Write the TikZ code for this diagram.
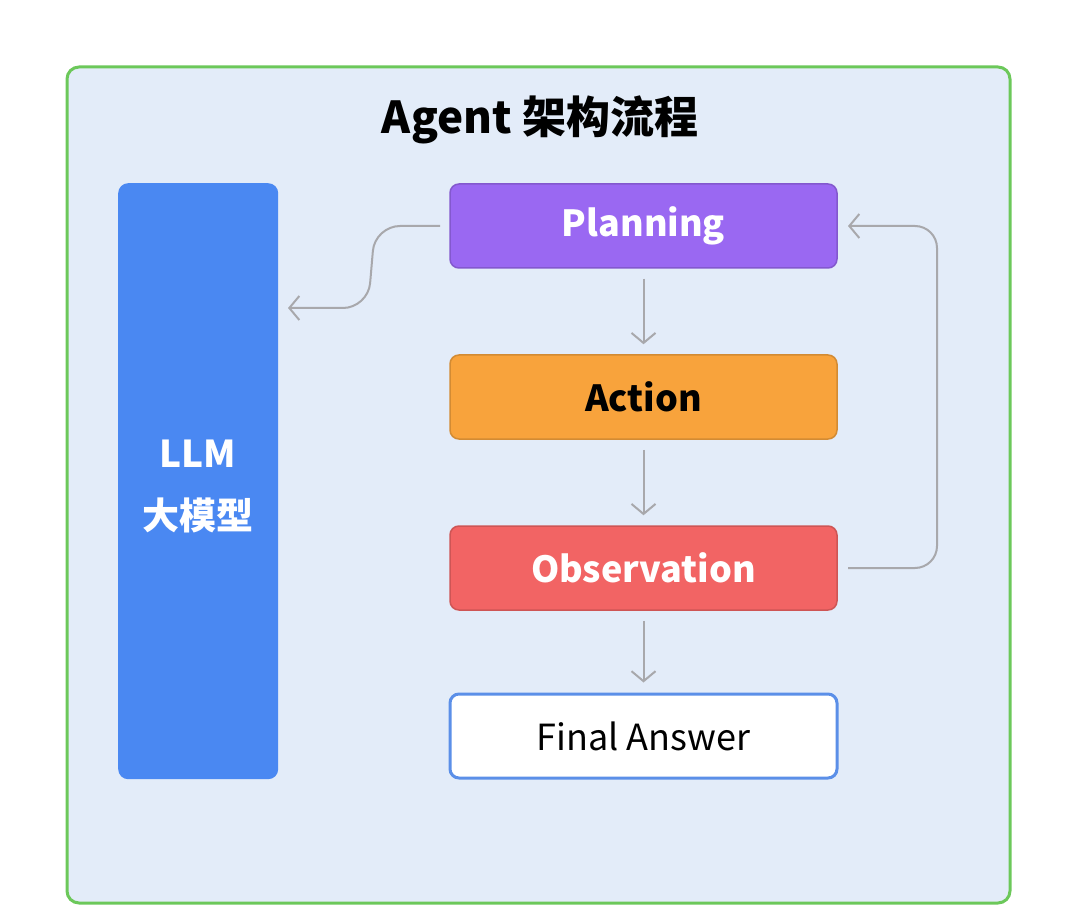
\documentclass[tikz,border=0pt]{standalone}
\usepackage{fontspec}
\setmainfont{Noto Sans CJK SC}
\usetikzlibrary{arrows.meta}
\definecolor{bgc}{HTML}{E3ECF9}
\definecolor{grn}{HTML}{6CC85A}
\definecolor{llm}{HTML}{4A88F2}
\definecolor{plan}{HTML}{9A68F2}
\definecolor{act}{HTML}{F8A33C}
\definecolor{obs}{HTML}{F26464}
\definecolor{fin}{HTML}{5B8FE8}
\definecolor{arr}{HTML}{A8A8AC}
\tikzset{
  box/.style={rounded corners=9pt, minimum width=387pt, minimum height=84pt, font=\fontsize{36}{42}\selectfont\bfseries, line width=1.5pt},
  conn/.style={draw=arr, line width=2pt, -{Straight Barb[length=10pt,width=24pt,line width=2pt]}}
}
\begin{document}
\begin{tikzpicture}[x=1pt,y=-1pt]
\useasboundingbox (0,0) rectangle (1080,912);
\draw[fill=bgc, draw=grn, line width=3pt, rounded corners=12pt] (67,67) rectangle (1010,903);
\node (title) at (540,120) {\fontsize{44}{50}\selectfont\bfseries Agent 架构流程};
\node[fill=llm, rounded corners=10pt, minimum width=160pt, minimum height=596pt, anchor=north west] (llm) at (118,183) {};
\node[text=white, align=center, font=\fontsize{37}{62}\selectfont\bfseries] (llmt) at (198,486) {LLM\\大模型};
\node[box, fill=plan, draw=plan!85!black, text=white] (p) at (643.5,226) {Planning};
\node[box, fill=act, draw=act!85!black, text=black] (a) at (643.5,397) {Action};
\node[box, fill=obs, draw=obs!85!black, text=white] (o) at (643.5,568) {Observation};
\node[box, fill=white, draw=fin, line width=3pt, font=\fontsize{36}{42}\selectfont] (f) at (643.5,736) {Final Answer};
\draw[conn] ([yshift=-10pt]p.south) -- ([yshift=10pt]a.north);
\draw[conn] ([yshift=-10pt]a.south) -- ([yshift=10pt]o.north);
\draw[conn] ([yshift=-10pt]o.south) -- ([yshift=10pt]f.north);
\coordinate (pl) at (440,226);
\coordinate (ll) at (288,308);
\draw[conn, rounded corners=25pt] (pl) -- (375,226) -- (368,308) -- (ll);
\coordinate (or) at (848,568);
\coordinate (pr) at (848,226);
\draw[conn, rounded corners=22pt] (or) -- (937,568) -- (937,226) -- (pr);
\end{tikzpicture}
\end{document}
